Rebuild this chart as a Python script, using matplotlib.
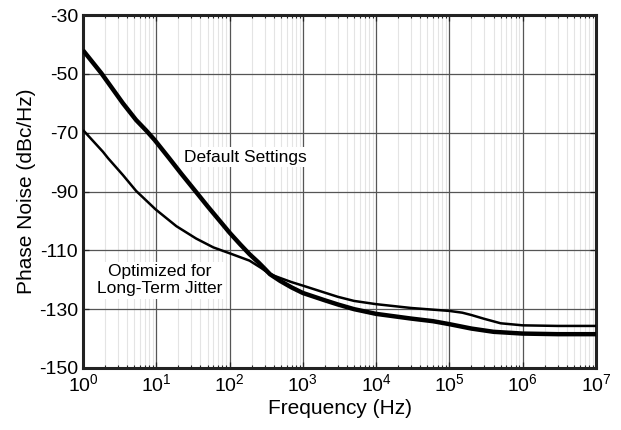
import numpy as np
import matplotlib.pyplot as plt
from matplotlib.ticker import LogLocator, NullFormatter

plt.rcParams['font.family'] = ['Liberation Sans', 'DejaVu Sans']
plt.rcParams['mathtext.fontset'] = 'custom'
plt.rcParams['mathtext.rm'] = 'Liberation Sans'
plt.rcParams['axes.unicode_minus'] = False

# Phase noise curves (Hz, dBc/Hz)
freq_default = [1, 1.78, 3.5, 5.3, 7.3, 9.5, 15, 22, 35, 50, 66, 100, 140,
                187, 250, 300, 355, 490, 700, 1e3, 2e3, 3e3, 5e3, 1e4, 3e4,
                6e4, 1e5, 2e5, 4e5, 1e6, 3e6, 1e7]
pn_default = [-42, -49.8, -60, -65.7, -69.3, -72.5, -78.7, -84, -90.2,
              -95, -98.6, -104, -108, -111.3, -114.2, -116.2, -118.1,
              -120.4, -122.6, -124.5, -127, -128.4, -130, -131.6, -133.2,
              -134.1, -135.1, -136.6, -137.7, -138.3, -138.5, -138.5]

freq_opt = [1, 1.87, 2.2, 3.5, 5.3, 9.8, 18.8, 35, 60, 100, 187, 270, 355,
            490, 700, 1e3, 2e3, 3e3, 5e3, 1e4, 3e4, 1e5, 1.5e5, 2e5, 3e5,
            5e5, 1e6, 3e6, 1e7]
pn_opt = [-69.1, -76.5, -78.7, -84.4, -89.8, -96.1, -101.8, -106, -109,
          -111, -113.5, -116, -118.1, -119.4, -120.8, -122, -124.4, -125.8,
          -127.2, -128.3, -129.6, -130.6, -131.2, -132, -133.3, -134.8,
          -135.5, -135.7, -135.7]

x_ticks = [1, 1e1, 1e2, 1e3, 1e4, 1e5, 1e6, 1e7]
y_ticks = [-150, -130, -110, -90, -70, -50, -30]

fig = plt.figure(figsize=(6.21, 4.30), dpi=100)
ax = fig.add_axes([0.1337, 0.1442, 0.826, 0.8209])

ax.semilogx(freq_default, pn_default, color='black', lw=3.2,
            solid_joinstyle='round', solid_capstyle='butt', zorder=4)
ax.semilogx(freq_opt, pn_opt, color='black', lw=1.8,
            solid_joinstyle='round', solid_capstyle='butt', zorder=4)

ax.set_xlim(1, 1e7)
ax.set_ylim(-150, -30)
ax.set_xticks(x_ticks)
ax.set_yticks(y_ticks)
ax.xaxis.set_minor_locator(LogLocator(base=10, subs=np.arange(2, 10), numticks=20))
ax.xaxis.set_minor_formatter(NullFormatter())

ax.grid(True, which='major', color='#555555', lw=0.9)
ax.grid(True, which='minor', axis='x', color='#e4e4e4', lw=0.8)
ax.set_axisbelow(True)

ax.tick_params(which='both', direction='in', top=True, right=True,
               labelsize=14, color='#222222')
ax.tick_params(which='major', length=4, width=0.9)
ax.tick_params(which='minor', length=2.5, width=0.8)
for s in ax.spines.values():
    s.set_linewidth(2.2)
    s.set_color('#222222')

ax.set_xlabel('Frequency (Hz)', fontsize=15, labelpad=3)
ax.set_ylabel('Phase Noise (dBc/Hz)', fontsize=15, labelpad=2)

box = dict(facecolor='white', edgecolor='none', pad=2)
ax.text(165, -78.3, 'Default Settings', fontsize=12.5, ha='center',
        va='center', bbox=box, zorder=3)
ax.text(11, -120.2, 'Optimized for\nLong-Term Jitter', fontsize=12.5,
        ha='center', va='center', linespacing=1.15, bbox=box, zorder=3)

fig.savefig('out.png', dpi=100)
